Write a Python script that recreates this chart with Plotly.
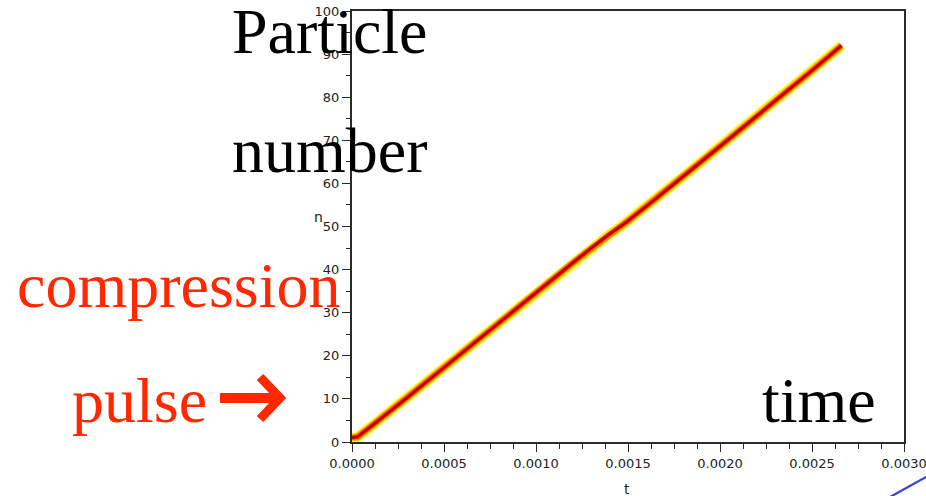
import plotly.graph_objects as go

# Particle index n reached by the compression pulse at time t
t_values = [0.0, 0.00003, 0.0001, 0.0002, 0.0003, 0.0004, 0.0005, 0.0006, 0.0007,
            0.0008, 0.0009, 0.0010, 0.0011, 0.0012, 0.0013, 0.0014, 0.00146, 0.0015,
            0.0016, 0.0017, 0.0018, 0.0019, 0.0020, 0.0021, 0.0022, 0.0023, 0.0024,
            0.0025, 0.0026, 0.00266]
n_values = [1.0, 1.2, 3.5, 6.8, 10.3, 13.8, 17.3, 20.7, 24.2,
            27.7, 31.2, 34.6, 38.1, 41.6, 45.0, 48.3, 50.0, 51.3,
            54.7, 58.1, 61.6, 65.1, 68.6, 72.1, 75.6, 79.0, 82.6,
            86.2, 89.8, 92.0]

x_ticks = [0.0, 0.0005, 0.0010, 0.0015, 0.0020, 0.0025, 0.0030]
x_tick_text = ["0.0000", "0.0005", "0.0010", "0.0015", "0.0020", "0.0025", "0.0030"]
y_ticks = [0, 10, 20, 30, 40, 50, 60, 70, 80, 90, 100]

W, H = 926, 496
L, R, T, B = 352, 22, 11, 54


def px(x):
    return (x - L) / (W - L - R)


def py(y):
    return (H - B - y) / (H - T - B)


fig = go.Figure()

# glowing band: layered strokes from pale halo to dark core
for width, color in [(11.5, "#ffffb0"), (9, "#ffee00"), (6.5, "#ff8800"),
                     (4, "#ee1800"), (2.2, "#b80000")]:
    fig.add_trace(go.Scatter(x=t_values, y=n_values, mode="lines",
                             line=dict(color=color, width=width),
                             hoverinfo="skip", showlegend=False))

axis_font = dict(family="DejaVu Sans", size=13, color="#222222")
ink = "#2a2a2a"

fig.update_xaxes(range=[-1e-9, 0.003 + 1e-9], tickvals=x_ticks, ticktext=x_tick_text,
                 ticks="outside", ticklen=8, tickwidth=1.4, tickcolor=ink,
                 showline=True, linecolor=ink, linewidth=2, mirror=True,
                 showgrid=False, zeroline=False, tickfont=axis_font,
                 ticklabeloverflow="allow", automargin=False,
                 minor=dict(dtick=0.000125, tick0=0, ticks="outside", ticklen=5,
                            tickwidth=1.4, tickcolor=ink, showgrid=False))
fig.update_yaxes(range=[0, 100.0001], tickvals=y_ticks,
                 ticks="outside", ticklen=8, tickwidth=1.4, tickcolor=ink,
                 showline=True, linecolor=ink, linewidth=2, mirror=True,
                 showgrid=False, zeroline=False, tickfont=axis_font,
                 ticklabeloverflow="allow", automargin=False,
                 minor=dict(dtick=5, tick0=0, ticks="outside", ticklen=4,
                            tickwidth=1.4, tickcolor=ink, showgrid=False))

serif = "Liberation Serif"
red = "#ff2800"
big = 64
texts = [
    ("Particle", 230, 31, "black"),
    ("number", 230, 150, "black"),
    ("compression", 15, 285, red),
    ("pulse", 70, 400, red),
    ("time", 760, 400, "black"),
]
annotations = []
for txt, x0, yc, col in texts:
    annotations.append(dict(text=txt, x=px(x0), y=py(yc), xref="paper", yref="paper",
                            xanchor="left", yanchor="middle", showarrow=False,
                            font=dict(family=serif, size=big, color=col)))
label_font = dict(family="DejaVu Sans", size=14, color="#222222")
annotations.append(dict(text="n", x=px(312), y=py(217), xref="paper", yref="paper",
                        showarrow=False, font=label_font))
annotations.append(dict(text="t", x=px(627), y=py(479), xref="paper", yref="paper",
                        yanchor="top", showarrow=False, font=label_font))

shapes = [
    # arrow shaft and head
    dict(type="line", xref="paper", yref="paper", x0=px(220), y0=py(398),
         x1=px(276), y1=py(398), line=dict(color=red, width=10)),
    dict(type="path", xref="paper", yref="paper",
         path=f"M {px(260)} {py(377)} L {px(280)} {py(398)} L {px(260)} {py(419)}",
         line=dict(color=red, width=9)),
    # blue stroke at the lower right corner
    dict(type="line", xref="paper", yref="paper", x0=px(890), y0=py(497),
         x1=px(928), y1=py(476), line=dict(color="#3344dd", width=2.2)),
]

fig.update_layout(width=W, height=H,
                  margin=dict(l=L, r=R, t=T, b=B, autoexpand=False),
                  plot_bgcolor="white", paper_bgcolor="white",
                  annotations=annotations, shapes=shapes)

fig.write_html("out.html")
